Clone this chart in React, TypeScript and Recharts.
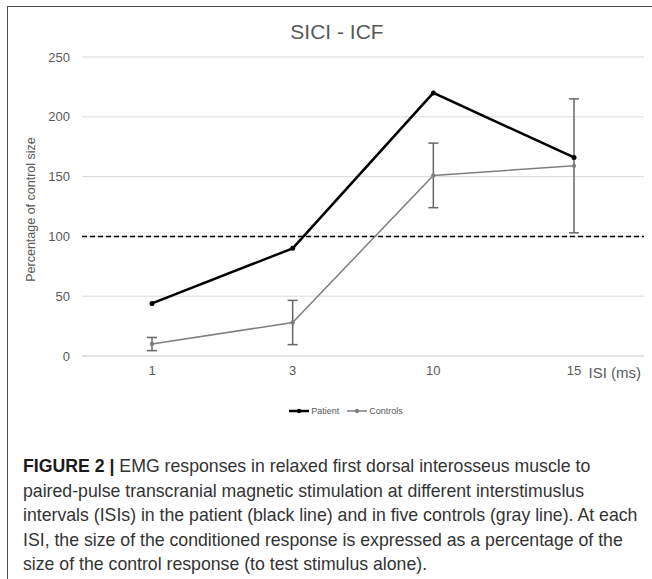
import React from "react";
import {
    LineChart,
    Line,
    XAxis,
    YAxis,
    CartesianGrid,
    ReferenceLine,
    ErrorBar,
    Legend,
    Label
} from "recharts";

// values
const isiLabels = ["1", "3", "10", "15"];
const patientValues = [44, 90, 220, 166];
const controlValues = [10, 28, 151, 159];
const controlErrors = [5.5, 18.5, 27, 56];
const yTicks = [0, 50, 100, 150, 200, 250];
const controlLevel = 100;
const seriesOrder = ["Patient", "Controls"];

const captionLead = "FIGURE 2 |";
const captionLines = [
    " EMG responses in relaxed first dorsal interosseus muscle to",
    "paired-pulse transcranial magnetic stimulation at different interstimuslus",
    "intervals (ISIs) in the patient (black line) and in five controls (gray line). At each",
    "ISI, the size of the conditioned response is expressed as a percentage of the",
    "size of the control response (to test stimulus alone)."
];

const data = isiLabels.map((isi, i) => ({
    isi,
    patient: patientValues[i],
    controls: controlValues[i],
    controlsErr: controlErrors[i]
}));

const FONT = '"Liberation Sans", Arial, sans-serif';

const renderLegend = (props: any) => {
    const items = [...props.payload].sort(
        (a: any, b: any) => seriesOrder.indexOf(a.value) - seriesOrder.indexOf(b.value)
    );
    return (
        <div style={{ display: "flex", justifyContent: "center", gap: 8, fontFamily: FONT, fontSize: 9, color: "#595959", paddingLeft: 26 }}>
            {items.map((entry: any) => (
                <span key={entry.value} style={{ display: "inline-flex", alignItems: "center" }}>
                    <svg width={20} height={8} style={{ marginRight: 2 }}>
                        <line x1={0} y1={4} x2={20} y2={4} stroke={entry.color} strokeWidth={entry.value === "Patient" ? 2.5 : 1.5} />
                        <circle cx={10} cy={4} r={2.2} fill={entry.color} />
                    </svg>
                    {entry.value}
                </span>
            ))}
        </div>
    );
};

export default function App() {
    return (
        <div style={{ position: "fixed", left: 0, top: 0, width: 652, height: 579, background: "#fff", overflow: "hidden" }}>
            <div style={{ position: "absolute", left: 7, top: 6, width: 700, height: 700, borderLeft: "1.5px solid #4d4d4d", borderTop: "1.5px solid #4d4d4d" }} />

            <div style={{ position: "absolute", left: 237, top: 19, width: 200, textAlign: "center", fontFamily: FONT, fontSize: 21, color: "#595959", lineHeight: "26px" }}>
                SICI - ICF
            </div>

            <div style={{ position: "absolute", left: 0, top: 0 }}>
                <LineChart width={652} height={430} data={data} margin={{ top: 57, right: 8, bottom: 10, left: 22 }}>
                    <CartesianGrid vertical={false} stroke="#d9d9d9" />
                    <XAxis
                        dataKey="isi"
                        height={50}
                        padding={{ left: 70, right: 70 }}
                        axisLine={{ stroke: "#d9d9d9" }}
                        tickLine={false}
                        tickSize={0}
                        tickMargin={10}
                        tick={{ fill: "#595959", fontSize: 13, fontFamily: FONT }}
                    >
                        <Label
                            content={(p: any) => {
                                const vb = p.viewBox;
                                return (
                                    <text x={vb.x + vb.width - 3} y={vb.y + 22} textAnchor="end" fill="#595959" fontSize={15} fontFamily={FONT}>
                                        ISI (ms)
                                    </text>
                                );
                            }}
                        />
                    </XAxis>
                    <YAxis
                        width={60}
                        domain={[0, 250]}
                        ticks={yTicks}
                        axisLine={false}
                        tickLine={false}
                        tickSize={0}
                        tickMargin={12}
                        tick={{ fill: "#595959", fontSize: 13, fontFamily: FONT }}
                    >
                        <Label
                            content={(p: any) => {
                                const vb = p.viewBox;
                                const cx = vb.x + 9;
                                const cy = vb.y + vb.height / 2 + 3;
                                return (
                                    <text x={cx} y={cy} transform={`rotate(-90 ${cx} ${cy})`} textAnchor="middle" dominantBaseline="central" fill="#595959" fontSize={12.5} fontFamily={FONT}>
                                        Percentage of control size
                                    </text>
                                );
                            }}
                        />
                    </YAxis>
                    <ReferenceLine y={controlLevel} stroke="#000" strokeWidth={1.5} strokeDasharray="5 3" />
                    <Line
                        dataKey="patient"
                        name="Patient"
                        stroke="#000"
                        strokeWidth={2.5}
                        dot={{ r: 2.5, fill: "#000", stroke: "#000", strokeWidth: 0 }}
                        isAnimationActive={false}
                    />
                    <Line
                        dataKey="controls"
                        name="Controls"
                        stroke="#7f7f7f"
                        strokeWidth={1.5}
                        dot={{ r: 2.2, fill: "#7f7f7f", stroke: "#7f7f7f", strokeWidth: 0 }}
                        isAnimationActive={false}
                    >
                        <ErrorBar dataKey="controlsErr" width={5} stroke="#666" strokeWidth={1.5} isAnimationActive={false} />
                    </Line>
                    <Legend verticalAlign="bottom" height={14} content={renderLegend} />
                </LineChart>
            </div>

            <div style={{ position: "absolute", left: 23, top: 454, fontFamily: FONT, fontSize: 17.7, lineHeight: "24.5px", color: "#333", whiteSpace: "nowrap" }}>
                {captionLines.map((line, i) => (
                    <div key={i}>
                        {i === 0 && <b style={{ color: "#1a1a1a" }}>{captionLead}</b>}
                        {line}
                    </div>
                ))}
            </div>
        </div>
    );
}
